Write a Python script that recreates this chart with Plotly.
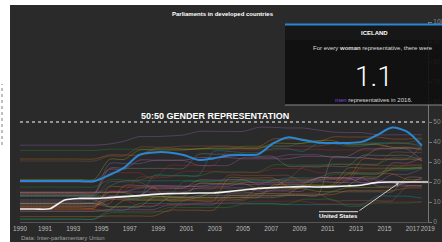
import plotly.graph_objects as go

# ---------------- data (share of women in lower house, %) ----------------
years = list(range(1990, 2018))

iceland = [20.5, 20.5, 20.5, 20.5, 20.5, 20.5, 23.5, 27.2, 33.5, 34.8, 34.8, 33.5, 31.0, 31.8,
           33.2, 33.5, 33.8, 39.3, 42.3, 41.0, 39.8, 39.5, 39.5, 40.2, 43.5, 47.2, 45.2, 38.2]
united_states = [6.5, 6.5, 6.6, 11.0, 11.8, 11.8, 12.2, 12.7, 13.2, 13.8, 14.2, 14.3, 14.5, 14.5,
                 15.2, 16.0, 16.8, 17.2, 17.5, 17.7, 17.5, 17.7, 18.0, 18.5, 19.8, 20.0, 20.0, 20.0]

sweden = [38.4, 38.4, 38.4, 38.4, 38.4, 38.4, 39.0, 40.4, 42.7, 42.7, 43.0, 43.5, 45.3, 45.3,
          45.3, 45.3, 47.3, 47.3, 47.0, 47.0, 46.0, 45.0, 44.7, 44.7, 43.6, 43.6, 43.6, 43.6]
norway = [35.8, 35.8, 35.8, 35.8, 35.8, 35.8, 36.4, 36.4, 36.4, 36.4, 36.4, 36.4, 36.4, 36.4,
          36.4, 37.9, 37.9, 37.9, 37.9, 39.6, 39.6, 39.6, 39.6, 39.6, 39.6, 39.6, 39.6, 41.4]
finland = [31.5, 31.5, 31.5, 31.5, 31.5, 31.5, 33.5, 33.5, 33.5, 36.5, 37.0, 36.5, 36.5, 37.5,
           37.5, 37.5, 37.5, 41.5, 41.5, 41.5, 40.0, 42.5, 42.5, 42.5, 42.5, 41.5, 41.5, 42.0]
denmark = [30.5, 30.5, 30.5, 30.5, 30.5, 30.5, 33.0, 33.0, 37.4, 37.4, 37.4, 38.0, 38.0, 38.0,
           38.0, 36.9, 36.9, 38.0, 38.0, 38.0, 38.0, 39.1, 39.1, 39.1, 39.1, 37.4, 37.4, 37.4]
netherlands = [21.3, 21.3, 21.3, 21.3, 21.3, 21.3, 31.3, 31.3, 36.0, 36.0, 36.0, 36.0, 36.7, 36.7,
               36.7, 36.7, 36.7, 39.3, 39.3, 39.3, 40.7, 40.7, 38.7, 38.7, 38.7, 37.3, 37.3, 36.0]
germany = [20.0, 20.0, 20.0, 20.0, 20.0, 20.0, 26.3, 26.3, 30.9, 30.9, 30.9, 30.9, 32.2, 32.2,
           32.2, 31.6, 31.6, 31.6, 31.6, 32.8, 32.8, 32.8, 32.8, 36.5, 36.5, 36.5, 36.5, 30.7]
belgium = [9.4, 9.4, 9.4, 9.4, 9.4, 9.4, 12.0, 12.0, 12.0, 23.3, 23.3, 23.3, 23.3, 35.3,
           35.3, 34.7, 34.7, 36.7, 36.7, 35.3, 39.3, 39.3, 38.0, 38.0, 39.3, 39.3, 39.3, 38.0]
spain = [14.6, 14.6, 14.6, 14.6, 14.6, 14.6, 24.6, 24.6, 24.6, 21.6, 28.3, 28.3, 28.3, 28.3,
         36.0, 36.0, 36.0, 36.0, 36.3, 36.3, 36.3, 36.0, 36.0, 36.0, 36.0, 40.0, 39.1, 39.1]
austria = [13.9, 13.9, 13.9, 13.9, 13.9, 13.9, 26.8, 26.8, 26.8, 26.8, 26.8, 26.8, 33.9, 33.9,
           33.9, 33.9, 32.8, 32.8, 27.9, 27.9, 27.9, 27.9, 27.9, 33.3, 33.3, 33.3, 33.3, 30.6]
new_zealand = [14.4, 14.4, 14.4, 14.4, 14.4, 14.4, 29.2, 29.2, 29.2, 30.8, 30.8, 30.8, 28.3, 28.3,
               28.3, 32.2, 32.2, 32.2, 33.6, 33.6, 33.6, 32.2, 32.2, 32.2, 31.4, 31.4, 31.4, 38.3]
switzerland = [17.5, 17.5, 17.5, 17.5, 17.5, 17.5, 21.0, 21.0, 21.0, 23.0, 23.0, 23.0, 23.0, 25.0,
               25.0, 25.0, 25.0, 28.5, 28.5, 28.5, 28.5, 29.0, 29.0, 29.0, 29.0, 32.0, 32.0, 32.0]
italy = [8.1, 8.1, 8.1, 8.1, 8.1, 8.1, 11.1, 11.1, 11.1, 11.1, 11.1, 11.5, 11.5, 11.5,
         11.5, 11.5, 17.3, 17.3, 21.3, 21.3, 21.3, 21.3, 21.3, 31.4, 31.4, 31.4, 31.4, 31.0]
portugal = [8.7, 8.7, 8.7, 8.7, 8.7, 8.7, 13.0, 13.0, 13.0, 17.4, 17.4, 17.4, 19.1, 19.1,
            19.1, 21.3, 21.3, 21.3, 21.3, 27.4, 27.4, 28.7, 28.7, 28.7, 28.7, 34.8, 34.8, 34.8]
france = [6.1, 6.1, 6.1, 6.1, 6.1, 6.1, 6.1, 10.9, 10.9, 10.9, 10.9, 10.9, 12.3, 12.3,
          12.3, 12.3, 12.3, 18.5, 18.5, 18.5, 18.5, 18.5, 26.9, 26.9, 26.9, 26.9, 26.9, 26.9]
united_kingdom = [9.2, 9.2, 9.2, 9.2, 9.2, 9.2, 9.2, 18.2, 18.2, 18.2, 18.2, 17.9, 17.9, 17.9,
                  17.9, 19.7, 19.7, 19.7, 19.7, 19.7, 22.0, 22.0, 22.0, 22.0, 22.0, 29.4, 29.4, 32.0]
canada = [13.2, 13.2, 13.2, 13.2, 13.2, 13.2, 18.0, 20.6, 20.6, 20.6, 20.6, 20.6, 20.6, 20.6,
          21.1, 21.1, 20.8, 20.8, 22.1, 22.1, 22.1, 24.7, 24.7, 24.7, 24.7, 26.0, 26.0, 27.0]
australia = [6.8, 6.8, 6.8, 6.8, 6.8, 6.8, 15.5, 15.5, 22.4, 22.4, 22.4, 25.3, 25.3, 25.3,
             24.7, 24.7, 24.7, 26.7, 26.7, 26.7, 24.7, 24.7, 24.7, 26.0, 26.0, 26.0, 28.7, 28.7]
ireland = [7.8, 7.8, 7.8, 7.8, 7.8, 7.8, 12.0, 12.0, 12.0, 12.0, 12.0, 12.0, 13.3, 13.3,
           13.3, 13.3, 13.3, 13.3, 13.3, 13.3, 13.3, 15.1, 15.1, 15.1, 15.1, 15.1, 22.2, 22.2]
greece = [5.3, 5.3, 5.3, 5.3, 5.3, 5.3, 6.3, 6.3, 6.3, 6.3, 8.7, 8.7, 8.7, 8.7,
          14.0, 14.0, 14.0, 16.0, 16.0, 17.3, 17.3, 17.3, 21.0, 21.0, 21.0, 19.7, 18.3, 18.3]
japan = [1.4, 1.4, 1.4, 1.4, 1.4, 1.4, 4.6, 4.6, 4.6, 4.6, 7.3, 7.3, 7.3, 7.3,
         7.3, 9.0, 9.0, 9.0, 9.0, 11.3, 11.3, 11.3, 7.9, 8.1, 9.5, 9.5, 9.5, 10.1]
south_korea = [2.7, 2.7, 2.7, 2.7, 2.7, 2.7, 3.0, 3.0, 3.0, 3.0, 5.9, 5.9, 5.9, 5.9,
               13.0, 13.0, 13.0, 13.0, 13.7, 13.7, 13.7, 13.7, 15.7, 15.7, 15.7, 15.7, 17.0, 17.0]
luxembourg = [13.3, 13.3, 13.3, 13.3, 13.3, 13.3, 20.0, 20.0, 20.0, 16.7, 16.7, 16.7, 16.7, 16.7,
              23.3, 23.3, 23.3, 23.3, 23.3, 20.0, 20.0, 20.0, 20.0, 28.3, 28.3, 28.3, 28.3, 28.3]
israel = [9.2, 9.2, 9.2, 9.2, 9.2, 9.2, 7.5, 7.5, 7.5, 12.5, 12.5, 12.5, 12.5, 15.0,
          15.0, 15.0, 14.2, 14.2, 14.2, 18.3, 18.3, 18.3, 18.3, 22.5, 22.5, 26.7, 26.7, 27.5]
czechia = [10.0, 10.0, 10.0, 10.0, 10.0, 10.0, 15.0, 15.0, 15.0, 15.0, 15.0, 15.0, 17.0, 17.0,
           17.0, 17.0, 15.5, 15.5, 15.5, 15.5, 22.0, 22.0, 22.0, 19.5, 19.5, 19.5, 19.5, 22.0]
malta = [1.5, 1.5, 1.5, 1.5, 1.5, 1.5, 5.8, 5.8, 9.2, 9.2, 9.2, 9.2, 9.2, 9.2,
         9.2, 9.2, 9.2, 9.2, 8.7, 8.7, 8.7, 8.7, 8.7, 8.7, 12.9, 12.9, 12.9, 11.9]
hungary = [7.0, 7.0, 7.0, 7.0, 7.0, 7.0, 11.0, 11.0, 8.3, 8.3, 8.3, 8.3, 9.8, 9.8,
           9.8, 9.8, 10.4, 10.4, 10.4, 10.4, 9.1, 9.1, 9.1, 9.1, 10.1, 10.1, 10.1, 10.1]
slovenia = [11.0, 11.0, 11.0, 11.0, 11.0, 11.0, 7.8, 7.8, 7.8, 7.8, 12.2, 12.2, 12.2, 12.2,
            12.2, 12.2, 12.2, 12.2, 13.3, 13.3, 13.3, 32.2, 32.2, 32.2, 36.7, 36.7, 36.7, 36.7]
estonia = [12.9, 12.9, 12.9, 12.9, 12.9, 12.9, 12.9, 12.9, 12.9, 17.8, 17.8, 17.8, 17.8, 18.8,
           18.8, 18.8, 18.8, 20.8, 20.8, 20.8, 20.8, 19.8, 19.8, 19.8, 19.8, 23.8, 23.8, 26.7]
poland = [13.0, 13.0, 13.0, 13.0, 13.0, 13.0, 13.0, 13.0, 13.0, 13.0, 13.0, 20.2, 20.2, 20.2,
          20.2, 20.4, 20.4, 20.2, 20.2, 20.2, 20.2, 23.9, 23.9, 23.9, 23.9, 27.4, 27.4, 27.4]
lithuania = [7.1, 7.1, 7.1, 7.1, 7.1, 7.1, 17.5, 17.5, 17.5, 17.5, 10.6, 10.6, 10.6, 10.6,
             22.0, 22.0, 22.0, 22.0, 17.7, 17.7, 17.7, 17.7, 24.1, 24.1, 24.1, 24.1, 21.3, 21.3]
cyprus = [5.4, 5.4, 5.4, 5.4, 5.4, 5.4, 5.4, 5.4, 5.4, 5.4, 5.4, 10.7, 10.7, 10.7,
          10.7, 10.7, 14.3, 14.3, 14.3, 14.3, 14.3, 10.7, 10.7, 10.7, 10.7, 10.7, 17.9, 17.9]
slovakia = [14.7, 14.7, 14.7, 14.7, 14.7, 14.7, 14.7, 14.7, 12.7, 12.7, 12.7, 12.7, 19.3, 19.3,
            19.3, 19.3, 16.7, 16.7, 16.7, 16.7, 15.3, 15.3, 17.3, 17.3, 17.3, 17.3, 20.0, 20.0]
latvia = [15.0, 15.0, 15.0, 15.0, 15.0, 15.0, 15.0, 15.0, 17.0, 17.0, 17.0, 17.0, 21.0, 21.0,
          21.0, 21.0, 19.0, 19.0, 19.0, 19.0, 22.0, 22.0, 22.0, 22.0, 18.0, 18.0, 18.0, 18.0]

other_countries = {
    "Sweden": sweden, "Norway": norway, "Finland": finland, "Denmark": denmark,
    "Netherlands": netherlands, "Germany": germany, "Belgium": belgium, "Spain": spain,
    "Austria": austria, "New Zealand": new_zealand, "Switzerland": switzerland,
    "Italy": italy, "Portugal": portugal, "France": france, "United Kingdom": united_kingdom,
    "Canada": canada, "Australia": australia, "Ireland": ireland, "Greece": greece,
    "Japan": japan, "South Korea": south_korea, "Luxembourg": luxembourg, "Israel": israel,
    "Czechia": czechia, "Malta": malta, "Hungary": hungary, "Slovenia": slovenia,
    "Estonia": estonia, "Poland": poland, "Lithuania": lithuania, "Cyprus": cyprus,
    "Slovakia": slovakia, "Latvia": latvia,
}

x_tick_labels = ["1990", "1991", "1993", "1995", "1997", "1999", "2001", "2003", "2005",
                 "2007", "2009", "2011", "2013", "2015", "2017", "2019"]
y_ticks = [0, 10, 20, 30, 40, 50, 60, 70, 80, 90, 100]
parity_level = 50
highlight_ratio = "1.1"
highlight_year = 2016

# ---------------- styling ----------------
BG = "#2a2a2a"
palette = ["rgba(148,103,189,0.45)", "rgba(44,160,44,0.40)", "rgba(255,127,14,0.38)",
           "rgba(140,86,75,0.55)", "rgba(188,189,34,0.38)", "rgba(227,119,194,0.38)",
           "rgba(23,190,207,0.35)", "rgba(214,39,40,0.40)", "rgba(127,127,127,0.55)"]

W, H = 442, 242
L, R, T, B = 20, 14, 22, 20
x_range = [1990, 2017.41]

def px_x(px):  # pixel -> paper
    return (px - L) / (W - L - R)

def px_y(py):
    return (H - B - py) / (H - T - B)

fig = go.Figure()

for i, (name, vals) in enumerate(other_countries.items()):
    fig.add_trace(go.Scatter(x=years, y=vals, mode="lines", name=name,
                             line=dict(color=palette[i % len(palette)], width=0.8,
                                       shape="spline", smoothing=0.7),
                             hoverinfo="skip"))

fig.add_trace(go.Scatter(x=years, y=united_states, mode="lines", name="United States",
                         line=dict(color="#f2f2f2", width=1.6, shape="spline", smoothing=0.7),
                         hoverinfo="skip"))
fig.add_trace(go.Scatter(x=years, y=iceland, mode="lines", name="Iceland",
                         line=dict(color="#2b86d3", width=2, shape="spline", smoothing=0.8),
                         hoverinfo="skip"))

# tick placement of the original axis
odd_years = [int(t) for t in x_tick_labels[1:-1]]
tickvals = [x_range[0]] + [1991.68 + (t - 1991) * 0.95 for t in odd_years] + [x_range[1] - 0.01]

shapes = [
    # white page strips
    dict(type="rect", xref="paper", yref="paper", x0=px_x(-2), x1=px_x(10), y0=px_y(244), y1=px_y(-2),
         fillcolor="white", line=dict(width=0), layer="below"),
    dict(type="rect", xref="paper", yref="paper", x0=px_x(-2), x1=px_x(444), y0=px_y(5), y1=px_y(-2),
         fillcolor="white", line=dict(width=0), layer="below"),
    dict(type="line", xref="paper", yref="paper", x0=px_x(2), x1=px_x(2), y0=px_y(145), y1=px_y(84),
         line=dict(color="#aaaaaa", width=1.5, dash="dot"), layer="below"),
    # 50:50 line
    dict(type="line", xref="x", yref="y", x0=x_range[0], x1=x_range[1], y0=parity_level, y1=parity_level,
         line=dict(color="white", width=1, dash="dot")),
    # US extension to axis
    dict(type="line", xref="x", yref="y", x0=years[-1], x1=x_range[1], y0=united_states[-1],
         y1=united_states[-1], line=dict(color="#bbbbbb", width=2.2)),
    # tooltip box
    dict(type="rect", xref="paper", yref="paper", x0=px_x(285), x1=px_x(444), y0=px_y(105), y1=px_y(24.5),
         fillcolor="rgba(14,14,14,0.9)", line=dict(width=0), layer="above"),
    dict(type="rect", xref="paper", yref="paper", x0=px_x(285), x1=px_x(444), y0=px_y(40), y1=px_y(24.5),
         fillcolor="rgba(24,24,24,0.9)", line=dict(width=0), layer="above"),
    dict(type="line", xref="paper", yref="paper", x0=px_x(285), x1=px_x(444), y0=px_y(24.5), y1=px_y(24.5),
         line=dict(color="#2b86d3", width=2), layer="above"),
    dict(type="line", xref="paper", yref="paper", x0=px_x(285), x1=px_x(444), y0=px_y(105), y1=px_y(105),
         line=dict(color="#8a8a8a", width=1.2), layer="above"),
    # United States label overline
    dict(type="line", xref="paper", yref="paper", x0=px_x(319), x1=px_x(358), y0=px_y(211.7), y1=px_y(211.7),
         line=dict(color="#bbbbbb", width=1.2), layer="above"),
]

FONT = "Liberation Sans, Arial, sans-serif"
C = dict(xanchor="center", yanchor="middle", showarrow=False)
annotations = [
    dict(text="<b>Parliaments in developed countries</b>", xref="paper", yref="paper",
         x=px_x(223), y=px_y(14), font=dict(family=FONT, size=6, color="white"), **C),
    dict(text="<b>50:50 GENDER REPRESENTATION</b>", xref="x", yref="y", x=2003.1, y=parity_level,
         yshift=6, font=dict(family=FONT, size=9, color="white"), **C),
    dict(text="Data: Inter-parliamentary Union", xref="paper", yref="paper", x=px_x(19), y=px_y(238),
         xanchor="left", yanchor="middle", showarrow=False,
         font=dict(family=FONT, size=6, color="#a0a0a0")),
    dict(text="<b>ICELAND</b>", xref="paper", yref="paper", x=px_x(374), y=px_y(33),
         font=dict(family=FONT, size=6, color="white"), **C),
    dict(text="For every <b>woman</b> representative, there were", xref="paper", yref="paper",
         x=px_x(373), y=px_y(48), font=dict(family=FONT, size=6, color="#dddddd"), **C),
    dict(text=highlight_ratio, xref="paper", yref="paper", x=px_x(374), y=px_y(76),
         font=dict(family="Roboto, " + FONT, size=28, color="white", weight=300), **C),
    dict(text="<span style='color:#7d4fd6'>men</span> representatives in %d." % highlight_year,
         xref="paper", yref="paper", x=px_x(374), y=px_y(100),
         font=dict(family=FONT, size=6, color="#dddddd"), **C),
    dict(text="<b>United States</b>", xref="paper", yref="paper", x=px_x(338.5), y=px_y(216),
         font=dict(family=FONT, size=6, color="white"), **C),
    dict(text="", x=2015.45, y=19.5, xref="x", yref="y", axref="x", ayref="y",
         ax=2012.7, ay=5.15, showarrow=True, arrowhead=2, arrowsize=0.6, arrowwidth=1,
         arrowcolor="#cccccc", standoff=0),
]

fig.update_layout(
    width=W, height=H,
    margin=dict(l=L, r=R, t=T, b=B, pad=0, autoexpand=False),
    paper_bgcolor=BG, plot_bgcolor=BG,
    showlegend=False,
    shapes=shapes, annotations=annotations,
    xaxis=dict(range=x_range, tickvals=tickvals, ticktext=x_tick_labels, tickangle=0,
               automargin=False,
               showgrid=False, zeroline=False, showline=True, linecolor="#555555", linewidth=1,
               ticks="", tickfont=dict(family=FONT, size=6.3, color="#bbbbbb")),
    yaxis=dict(range=[0, 100], tickvals=y_ticks, side="right", showgrid=False, zeroline=False,
               automargin=False,
               showline=True, linecolor="#777777", linewidth=1, ticks="outside", ticklen=3,
               tickcolor="#777777", tickfont=dict(family=FONT, size=6.5, color="#8a8a8a")),
    hovermode=False,
)

fig.write_html("out.html", config={"displayModeBar": False},
               post_script="document.body.style.margin='0px';")
